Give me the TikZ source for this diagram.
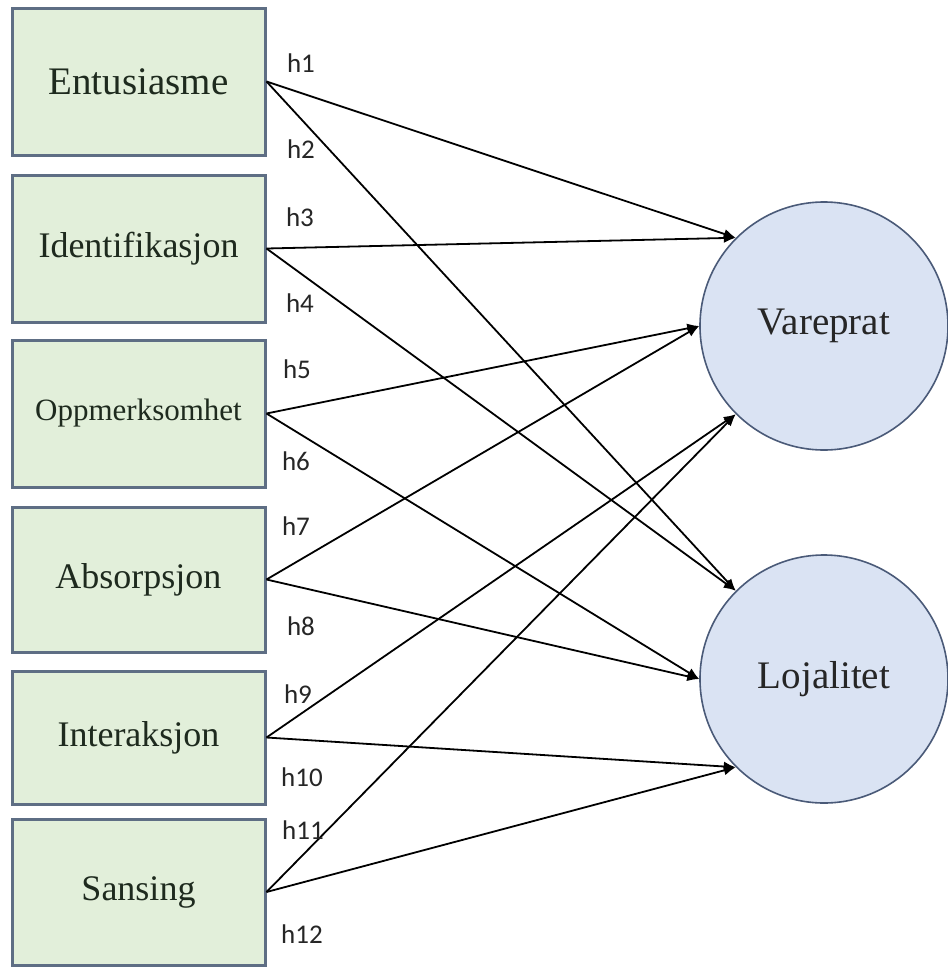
\documentclass[tikz,border=0pt]{standalone}
\usepackage{fontspec}
\setmainfont{Liberation Serif}
\newfontfamily\labelfont{Carlito}
\usetikzlibrary{arrows.meta}
\definecolor{boxfill}{HTML}{E2EFDA}
\definecolor{boxline}{HTML}{5E6E84}
\definecolor{circfill}{HTML}{DAE3F3}
\definecolor{circline}{HTML}{4A5A78}
\definecolor{txt}{HTML}{1E2A1E}
\tikzset{
  srcbox/.style={draw=boxline, line width=3pt, fill=boxfill, minimum width=253pt, inner sep=0pt, text=txt, font=\fontsize{36}{40}\selectfont},
  tgtcirc/.style={circle, draw=circline, line width=1.6pt, fill=circfill, minimum size=248pt, inner sep=0pt, text=black!85, font=\fontsize{39}{44}\selectfont},
  hlab/.style={inner sep=0pt, font=\labelfont\fontsize{27}{30}\selectfont, text=black!85},
  conn/.style={line width=1.8pt, -{Latex[length=12pt, width=10pt]}}
}
\begin{document}
\begin{tikzpicture}[x=1pt, y=-1pt]
\useasboundingbox (0,0) rectangle (948,967);
\fill[white] (0,0) rectangle (948,967);
% source boxes
\node[srcbox, minimum height=147pt, font=\fontsize{39}{44}\selectfont] (ent) at (138.5,81.5) {Entusiasme};
\node[srcbox, minimum height=147pt] (ide) at (138.5,248.5) {Identifikasjon};
\node[srcbox, minimum height=147pt, font=\fontsize{31}{36}\selectfont] (opp) at (138.5,413.5) {Oppmerksomhet};
\node[srcbox, minimum height=145pt] (abs) at (138.5,579.5) {Absorpsjon};
\node[srcbox, minimum height=133pt] (int) at (138.5,737.5) {Interaksjon};
\node[srcbox, minimum height=146pt] (san) at (138.5,892) {Sansing};
% target circles
\node[tgtcirc] (var) at (824,326) {Vareprat};
\node[tgtcirc] (loj) at (824,679) {Lojalitet};
% connectors
\draw[conn] (ent.east) -- (var.135);
\draw[conn] (ent.east) -- (loj.135);
\draw[conn] (ide.east) -- (var.135);
\draw[conn] (ide.east) -- (loj.135);
\draw[conn] (opp.east) -- (var.180);
\draw[conn] (opp.east) -- (loj.180);
\draw[conn] (abs.east) -- (var.180);
\draw[conn] (abs.east) -- (loj.180);
\draw[conn] (int.east) -- (var.225);
\draw[conn] (int.east) -- (loj.225);
\draw[conn] (san.east) -- (var.225);
\draw[conn] (san.east) -- (loj.225);
% labels
\node[hlab] (h1) at (301,63) {h1};
\node[hlab] (h2) at (301,149) {h2};
\node[hlab] (h3) at (300,217) {h3};
\node[hlab] (h4) at (300,303) {h4};
\node[hlab] (h5) at (297,369) {h5};
\node[hlab] (h6) at (296,461) {h6};
\node[hlab] (h7) at (296,526) {h7};
\node[hlab] (h8) at (301,626) {h8};
\node[hlab] (h9) at (298,694) {h9};
\node[hlab] (h10) at (302,777) {h10};
\node[hlab] (h11) at (303,830) {h11};
\node[hlab] (h12) at (302,934) {h12};
\end{tikzpicture}
\end{document}
